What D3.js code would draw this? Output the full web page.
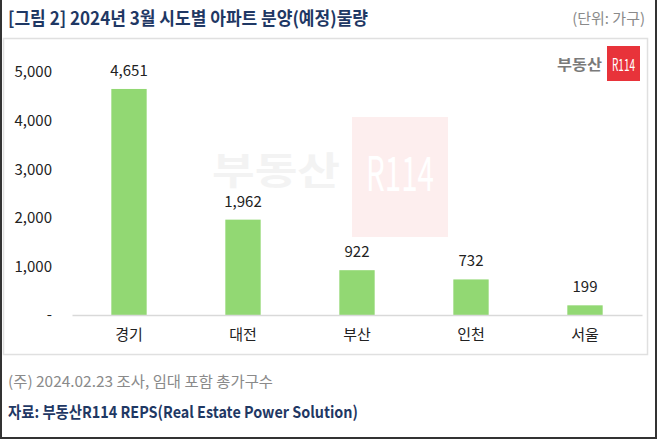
<!DOCTYPE html>
<html>
<head>
<meta charset="utf-8">
<script src="https://cdn.jsdelivr.net/npm/d3@7"></script>
<style>
  body { margin: 0; background: #fff; }
  svg { display: block; font-family: "Noto Sans CJK KR", "Noto Sans", sans-serif; }
</style>
</head>
<body>
<svg id="chart" width="658" height="439"></svg>
<script>
const regions = ["경기", "대전", "부산", "인천", "서울"];
const units = [4651, 1962, 922, 732, 199];
const yTicks = [0, 1000, 2000, 3000, 4000, 5000];

const titleText = "[그림 2] 2024년 3월 시도별 아파트 분양(예정)물량";
const unitText = "(단위: 가구)";
const noteText = "(주) 2024.02.23 조사, 임대 포함 총가구수";
const sourceText = "자료: 부동산R114 REPS(Real Estate Power Solution)";

const W = 658, H = 439;
const NAVY = "#1f3864";
const GREEN = "#92d873";

const svg = d3.select("#chart");

// Outer frame (dark on left / right / bottom)
svg.append("rect")
  .attr("x", 1).attr("y", -2).attr("width", W - 3).attr("height", H + 1)
  .attr("fill", "none").attr("stroke", "#333").attr("stroke-width", 2);

// Inner chart box
svg.append("rect")
  .attr("x", 3.5).attr("y", 38.5).attr("width", 644).attr("height", 316)
  .attr("fill", "none").attr("stroke", "#e0e0e0").attr("stroke-width", 1.5);

// Title + unit
svg.append("text")
  .attr("x", 8).attr("y", 25)
  .attr("font-size", 18).attr("font-weight", "bold").attr("fill", NAVY)
  .attr("textLength", 360).attr("lengthAdjust", "spacingAndGlyphs")
  .text(titleText);

svg.append("text")
  .attr("x", 645).attr("y", 24).attr("text-anchor", "end")
  .attr("font-size", 15).attr("fill", "#8a8a8a")
  .text(unitText);

// Scales
const x = d3.scaleBand(regions, [72, 642]).paddingInner(0.69).paddingOuter(0.345);
const y = d3.scaleLinear([0, 5000], [315, 72]);

// Watermark
const wm = svg.append("g");
wm.append("rect")
  .attr("x", 352).attr("y", 117).attr("width", 96).attr("height", 120)
  .attr("fill", "#fdeeee");
wm.append("text")
  .attr("x", 366).attr("y", 191)
  .attr("font-size", 48).attr("fill", "#fff")
  .attr("textLength", 68).attr("lengthAdjust", "spacingAndGlyphs")
  .text("R114");
wm.append("text")
  .attr("x", 212).attr("y", 184)
  .attr("font-size", 38).attr("font-weight", "bold").attr("fill", "#f3f3f3")
  .attr("textLength", 128).attr("lengthAdjust", "spacingAndGlyphs")
  .text("부동산");

// Logo top-right
const logo = svg.append("g");
logo.append("text")
  .attr("x", 557).attr("y", 70)
  .attr("font-size", 15).attr("font-weight", "bold").attr("fill", "#7a7a7a")
  .attr("textLength", 45).attr("lengthAdjust", "spacingAndGlyphs")
  .text("부동산");
logo.append("rect")
  .attr("x", 607).attr("y", 46).attr("width", 33).attr("height", 35)
  .attr("fill", "#e8333a");
logo.append("text")
  .attr("x", 612).attr("y", 71)
  .attr("font-size", 17).attr("fill", "#fff")
  .attr("textLength", 23).attr("lengthAdjust", "spacingAndGlyphs")
  .text("R114");

// Y axis
const axisY = d3.axisLeft(y).tickValues(yTicks).tickSize(0)
  .tickFormat(d => d === 0 ? "-" : d3.format(",")(d));
svg.append("g")
  .attr("transform", "translate(52,0)")
  .call(axisY)
  .call(g => g.select(".domain").remove())
  .call(g => g.selectAll("text")
    .attr("x", 0).attr("dx", 0)
    .attr("font-size", 15).attr("fill", "#222")
    .attr("font-family", "'Noto Sans CJK KR', sans-serif"));

// Bars
svg.append("g")
  .selectAll("rect")
  .data(units)
  .join("rect")
  .attr("x", (d, i) => x(regions[i]))
  .attr("width", x.bandwidth())
  .attr("y", d => y(d))
  .attr("height", d => y(0) - y(d))
  .attr("fill", GREEN);

// X axis
const axisX = d3.axisBottom(x).tickSize(0).tickPadding(14);
svg.append("g")
  .attr("transform", `translate(0,${y(0)})`)
  .call(axisX)
  .call(g => g.select(".domain").attr("stroke", "#d9d9d9").attr("stroke-width", 1.5))
  .call(g => g.selectAll("text")
    .attr("font-size", 15).attr("fill", "#222")
    .attr("font-family", "'Noto Sans CJK KR', sans-serif"));

// Value labels
svg.append("g")
  .selectAll("text")
  .data(units)
  .join("text")
  .attr("x", (d, i) => x(regions[i]) + x.bandwidth() / 2)
  .attr("y", d => y(d) - 13)
  .attr("text-anchor", "middle")
  .attr("font-size", 15).attr("fill", "#222")
  .text(d => d3.format(",")(d));

// Footer
svg.append("text")
  .attr("x", 8).attr("y", 387)
  .attr("font-size", 15).attr("fill", "#8a8a8a")
  .attr("textLength", 265).attr("lengthAdjust", "spacingAndGlyphs")
  .text(noteText);

svg.append("text")
  .attr("x", 8).attr("y", 418)
  .attr("font-size", 16).attr("font-weight", "bold").attr("fill", NAVY)
  .attr("textLength", 350).attr("lengthAdjust", "spacingAndGlyphs")
  .text(sourceText);
</script>
</body>
</html>
